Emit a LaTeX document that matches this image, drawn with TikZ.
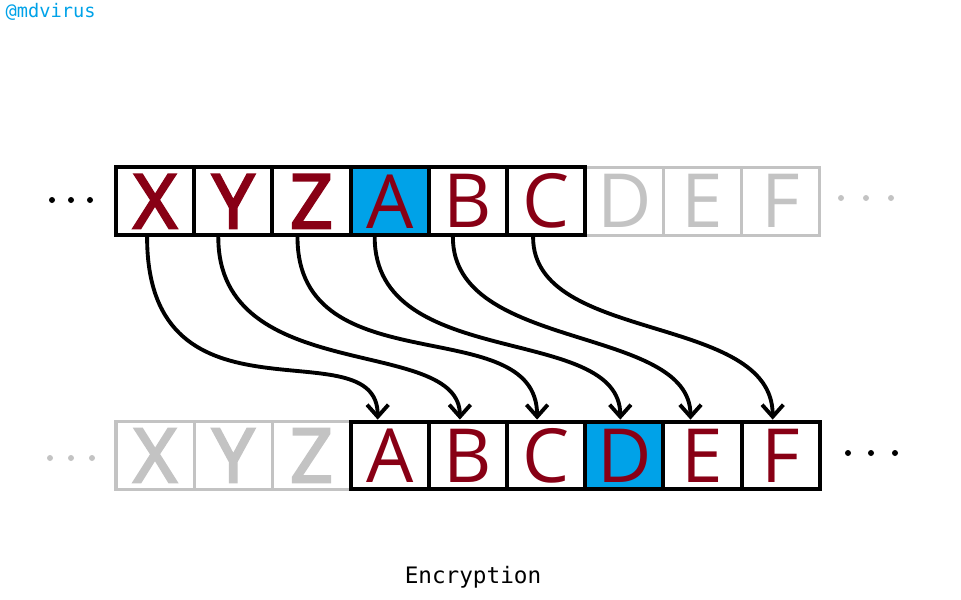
\documentclass[tikz,border=0pt]{standalone}
\usepackage{fontspec}
\setmainfont{Open Sans}
\setmonofont{DejaVu Sans Mono}
\newfontfamily\semiboldfont[FakeBold=3.5]{Open Sans}
\usetikzlibrary{arrows.meta,calc}
\definecolor{letterred}{RGB}{136,0,21}
\definecolor{keyblue}{RGB}{0,162,232}
\definecolor{unusedgray}{RGB}{195,195,195}
\begin{document}
\begin{tikzpicture}[x=0.75pt,y=-0.75pt,
	cell/.style={draw=black,line width=3pt,fill=white,minimum width=58.65pt,minimum height=50.8pt,inner sep=0pt,text=letterred,font=\fontsize{56}{56}\selectfont},
	keycell/.style={cell,fill=keyblue},
	faded/.style={cell,draw=unusedgray,line width=2.4pt,text=unusedgray},
	heavy/.style={font=\semiboldfont\fontsize{56}{56}\selectfont},
	mapto/.style={line width=2.9pt,-{Straight Barb[length=9pt,width=16pt]}}]
	\useasboundingbox (0,0) rectangle (961,600);
	% Plain alphabet
	\node [faded ] (pD) at (624.3,201.3) {D};
	\node [faded ] (pE) at (702.5,201.3) {E};
	\node [faded ] (pF) at (780.7,201.3) {F};
	\node [cell,heavy] (pX) at (155.1,201.3) {X};
	\node [cell,heavy] (pY) at (233.3,201.3) {Y};
	\node [cell,heavy] (pZ) at (311.5,201.3) {Z};
	\node [keycell] (pA) at (389.7,201.3) {A};
	\node [cell ] (pB) at (467.9,201.3) {B};
	\node [cell ] (pC) at (546.1,201.3) {C};
	\fill [black] (52,200) circle [radius=3];\fill [black] (71,200) circle [radius=3];\fill [black] (90,200) circle [radius=3];
	\fill [unusedgray] (841,198) circle [radius=3];\fill [unusedgray] (866,198) circle [radius=3];\fill [unusedgray] (891,198) circle [radius=3];
	% Cipher alphabet
	\node [faded,heavy] (cX) at (155.1,455.5) {X};
	\node [faded,heavy] (cY) at (233.3,455.5) {Y};
	\node [faded,heavy] (cZ) at (311.5,455.5) {Z};
	\node [cell ] (cA) at (389.7,455.5) {A};
	\node [cell ] (cB) at (467.9,455.5) {B};
	\node [cell ] (cC) at (546.1,455.5) {C};
	\node [keycell] (cD) at (624.3,455.5) {D};
	\node [cell ] (cE) at (702.5,455.5) {E};
	\node [cell ] (cF) at (780.7,455.5) {F};
	\fill [unusedgray] (50,458) circle [radius=3];\fill [unusedgray] (71,458) circle [radius=3];\fill [unusedgray] (92,458) circle [radius=3];
	\fill [black] (848,453) circle [radius=3];\fill [black] (871,453) circle [radius=3];\fill [black] (895,453) circle [radius=3];
	% Shift by three
	\draw [mapto] ($(pX.south)+(-8,0)$) .. controls +(0,200) and +(0,-95) .. ($(cA.north)+(-12,0)$);
	\draw [mapto] ($(pY.south)+(-15,0)$) .. controls +(0,150) and +(0,-85) .. ($(cB.north)+(-8,0)$);
	\draw [mapto] ($(pZ.south)+(-14,0)$) .. controls +(0,150) and +(0,-110) .. ($(cC.north)+(-9,0)$);
	\draw [mapto] ($(pA.south)+(-15,0)$) .. controls +(0,135) and +(0,-97) .. ($(cD.north)+(-4,0)$);
	\draw [mapto] ($(pB.south)+(-15,0)$) .. controls +(0,115) and +(0,-95) .. ($(cE.north)+(-12,0)$);
	\draw [mapto] ($(pC.south)+(-13,0)$) .. controls +(0,107) and +(0,-107) .. ($(cF.north)+(-8,0)$);
	% Labels
	\node [anchor=base west,text=keyblue,font=\ttfamily\fontsize{14}{14}\selectfont] (handle) at (1,17) {@mdvirus};
	\node [anchor=base,font=\ttfamily\fontsize{17}{17}\selectfont] (caption) at (473,583) {Encryption};
\end{tikzpicture}
\end{document}
